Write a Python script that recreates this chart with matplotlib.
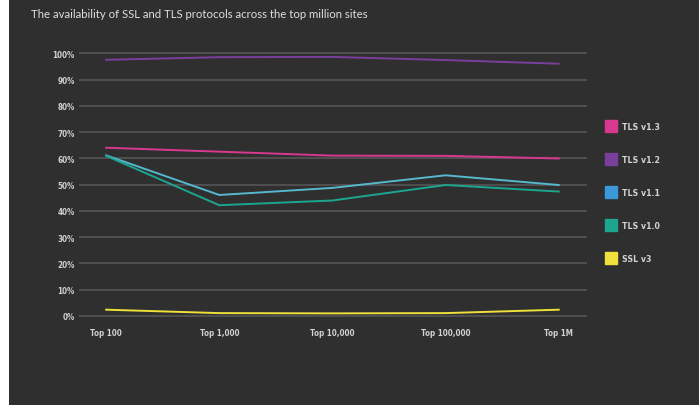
import matplotlib.pyplot as plt
from matplotlib.lines import Line2D
from matplotlib.patches import Rectangle
from matplotlib import font_manager

# data (percent of sites)
categories = ["Top 100", "Top 1,000", "Top 10,000", "Top 100,000", "Top 1M"]
tls13 = [64.1, 62.6, 61.1, 61.0, 60.0]
tls12 = [97.6, 98.6, 98.7, 97.5, 96.1]
tls11 = [61.2, 46.1, 48.8, 53.6, 49.9]
tls10 = [61.0, 42.2, 44.0, 49.9, 47.4]
sslv3 = [2.4, 1.1, 1.0, 1.1, 2.4]
y_ticks = [0, 10, 20, 30, 40, 50, 60, 70, 80, 90, 100]

bg = "#2f2f2f"
names = {f.name for f in font_manager.fontManager.ttflist}
print(sorted(n for n in names if "Narrow" in n or "Condensed" in n))
narrow = ["Liberation Sans Narrow", "DejaVu Sans"]
stretch = "normal" if "Liberation Sans Narrow" in names else "condensed"

fig = plt.figure(figsize=(6.99, 4.06), dpi=100)
fig.patch.set_facecolor("white")
fig.patches.append(Rectangle((9 / 699, 0), 1, 1, transform=fig.transFigure,
                             facecolor=bg, edgecolor="none", zorder=-5))

ax = fig.add_axes([79 / 699, 0.2063, (587 - 79) / 699, 0.6724])
ax.set_facecolor(bg)

x = list(range(len(categories)))
lw = 1.4
ax.plot(x, tls12, color="#7a3f9d", lw=lw, zorder=3)
ax.plot(x, tls13, color="#d8398f", lw=lw, zorder=3)
ax.plot(x, tls11, color="#55b8cc", lw=lw, zorder=3)
ax.plot(x, tls10, color="#1ca68f", lw=lw, zorder=3)
ax.plot(x, sslv3, color="#efe03c", lw=lw, zorder=3)

ax.set_xlim(-0.24, 4.25)
ax.set_ylim(-2, 102)
ax.set_yticks(y_ticks)
ax.set_yticklabels([f"{v}%" for v in y_ticks])
ax.set_xticks(x)
ax.set_xticklabels(categories)
ax.grid(axis="y", color="#4e4e4e", lw=1.5, zorder=1)
ax.tick_params(length=0, colors="#d2d2d2", labelsize=5.8)
ax.tick_params(axis="y", pad=3)
ax.tick_params(axis="x", pad=5)
for lab in ax.get_xticklabels() + ax.get_yticklabels():
    lab.set_family(narrow)
    lab.set_fontstretch(stretch)
    lab.set_fontweight("bold")
for s in ax.spines.values():
    s.set_visible(False)

fig.text(31 / 699, 1 - 14 / 406, "The availability of SSL and TLS protocols across the top million sites",
         color="#dedede", fontsize=8.2, family=["Lato", "DejaVu Sans"], va="center", ha="left")

leg_labels = ["TLS v1.3", "TLS v1.2", "TLS v1.1", "TLS v1.0", "SSL v3"]
leg_colors = ["#d8398f", "#7a3f9d", "#3a9ad9", "#1ca68f", "#efe03c"]
handles = [Line2D([], [], marker="s", ls="none", markersize=8, markerfacecolor=c,
                  markeredgecolor=c) for c in leg_colors]
leg = fig.legend(handles, leg_labels, loc="center left",
                 bbox_to_anchor=(602 / 699, 1 - 193.7 / 406), frameon=False,
                 borderpad=0, handlelength=1.0, handletextpad=0.8,
                 labelspacing=2.75, prop={"family": narrow, "size": 6.3,
                                          "stretch": stretch, "weight": "bold"})
for t in leg.get_texts():
    t.set_color("#d2d2d2")

fig.savefig("out.png", dpi=100, facecolor=fig.get_facecolor())
